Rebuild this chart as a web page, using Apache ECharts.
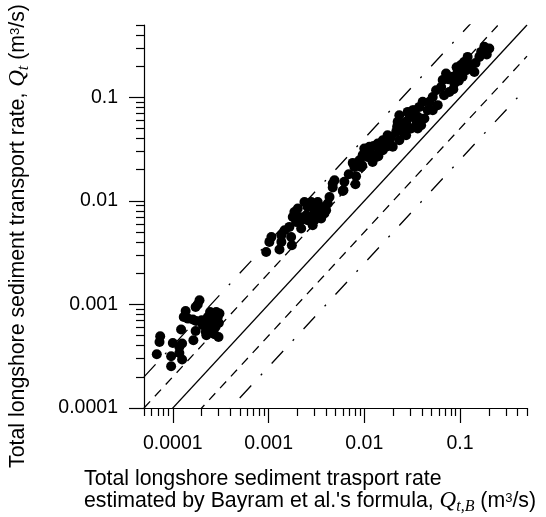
<!DOCTYPE html>
<html>
<head>
<meta charset="utf-8">
<script src="https://cdn.jsdelivr.net/npm/echarts@6/dist/echarts.min.js"></script>
<style>
  html, body { margin: 0; padding: 0; background: #fff; }
  #chart { width: 546px; height: 517px; }
</style>
</head>
<body>
<div id="chart"></div>
<script>
// estimated by Bayram et al.'s formula (x) vs measured (y), m3/s
const qtB = [
  // low-rate group
  1.90e-4, 1.82e-4, 1.73e-4, 1.36e-4, 1.30e-4, 1.44e-4, 1.62e-4, 1.75e-4, 2.45e-4, 2.84e-4,
  3.07e-4, 2.66e-4, 2.95e-4, 2.21e-4, 2.51e-4, 2.84e-4, 3.02e-4, 2.06e-4, 2.32e-4, 2.79e-4,
  1.22e-4, 1.73e-4, 2.21e-4, 2.51e-4, 2.72e-4, 2.24e-4, 3.00e-4, 1.64e-4, 7.38e-5, 7.26e-5,
  1.00e-4, 1.17e-4, 1.25e-4, 6.80e-5, 9.60e-5, 1.17e-4, 1.25e-4, 9.60e-5, 2.00e-4, 2.32e-4,
  // middle group
  4.68e-3, 5.96e-3, 4.33e-3, 2.37e-3, 2.79e-3, 3.26e-3, 3.54e-3, 3.99e-3, 3.01e-3, 2.56e-3,
  2.02e-3, 1.86e-3, 1.79e-3, 2.10e-3, 2.47e-3, 2.89e-3, 3.40e-3, 3.83e-3, 3.54e-3, 3.01e-3,
  2.56e-3, 2.19e-3, 1.94e-3, 2.19e-3, 2.89e-3, 1.65e-3, 1.47e-3, 1.36e-3, 1.72e-3, 1.07e-3,
  1.02e-3, 1.36e-3, 1.75e-3, 1.30e-3, 9.44e-4, 3.14e-3, 4.15e-3,
  // high group
  4.88e-3, 4.68e-3, 6.19e-3, 6.05e-3, 6.88e-3, 8.07e-3, 8.20e-3, 7.88e-3, 7.57e-3, 8.89e-3,
  9.62e-3, 1.00e-2, 1.13e-2, 1.08e-2, 1.22e-2, 1.33e-2, 1.44e-2, 1.38e-2, 1.56e-2, 1.69e-2,
  1.83e-2, 1.75e-2, 1.90e-2, 2.15e-2, 2.42e-2, 2.32e-2, 2.52e-2, 2.73e-2, 3.08e-2, 2.84e-2,
  3.33e-2, 3.47e-2, 3.61e-2, 2.23e-2, 2.32e-2, 9.27e-3, 1.18e-2, 1.56e-2, 1.98e-2, 2.73e-2,
  0.202, 0.166, 0.159, 0.130, 0.141, 0.102, 0.0944, 0.0838, 0.106, 0.0872,
  0.0658, 0.0634, 0.0773, 0.0562, 0.0518, 0.0479, 0.0584, 0.0459, 0.0376, 0.0320,
  0.0296, 0.0361, 0.0424, 0.0273, 0.0252, 0.0308, 0.0347, 0.120, 0.116, 0.0714,
  0.179, 0.0518, 0.0407, 0.0392, 0.145, 0.190, 0.110, 0.092, 0.075, 0.068,
  0.085, 0.097, 0.0125, 0.016, 0.022, 0.026, 0.0095, 0.014
];
const qt = [
  1.10e-3, 1.00e-3, 9.46e-4, 8.65e-4, 7.57e-4, 7.30e-4, 7.15e-4, 6.93e-4, 8.47e-4, 8.47e-4,
  8.17e-4, 7.87e-4, 7.57e-4, 6.78e-4, 6.78e-4, 7.03e-4, 6.63e-4, 6.30e-4, 6.06e-4, 6.06e-4,
  5.72e-4, 5.55e-4, 5.42e-4, 5.63e-4, 5.15e-4, 5.04e-4, 4.85e-4, 4.51e-4, 4.93e-4, 4.34e-4,
  4.25e-4, 3.88e-4, 4.19e-4, 3.30e-4, 3.16e-4, 3.40e-4, 2.94e-4, 2.53e-4, 7.03e-4, 7.57e-4,
  1.47e-2, 1.25e-2, 1.09e-2, 9.77e-3, 9.77e-3, 9.77e-3, 8.75e-3, 8.13e-3, 8.45e-3, 8.75e-3,
  8.45e-3, 7.83e-3, 7.00e-3, 7.00e-3, 7.28e-3, 7.28e-3, 7.55e-3, 7.55e-3, 6.76e-3, 6.51e-3,
  6.51e-3, 6.51e-3, 6.27e-3, 5.41e-3, 5.82e-3, 5.61e-3, 5.21e-3, 4.66e-3, 4.49e-3, 4.49e-3,
  4.02e-3, 4.02e-3, 3.73e-3, 3.39e-3, 3.21e-3, 9.08e-3, 9.44e-3,
  1.58e-2, 1.35e-2, 1.53e-2, 1.27e-2, 1.81e-2, 1.45e-2, 1.73e-2, 2.13e-2, 2.33e-2, 2.47e-2,
  2.77e-2, 3.21e-2, 3.33e-2, 2.66e-2, 2.38e-2, 2.66e-2, 2.97e-2, 3.59e-2, 3.86e-2, 3.33e-2,
  3.72e-2, 4.31e-2, 4.15e-2, 4.64e-2, 5.19e-2, 3.86e-2, 4.82e-2, 5.60e-2, 6.49e-2, 7.24e-2,
  7.52e-2, 6.03e-2, 5.01e-2, 5.80e-2, 6.73e-2, 2.13e-2, 2.87e-2, 3.09e-2, 3.33e-2, 4.31e-2,
  0.296, 0.275, 0.246, 0.205, 0.176, 0.205, 0.176, 0.158, 0.158, 0.136,
  0.147, 0.126, 0.113, 0.117, 0.101, 0.0905, 0.0841, 0.0752, 0.0809, 0.0752,
  0.0673, 0.0649, 0.0625, 0.0580, 0.0482, 0.0500, 0.0539, 0.246, 0.183, 0.170,
  0.308, 0.0752, 0.0905, 0.0539, 0.215, 0.260, 0.220, 0.195, 0.150, 0.105,
  0.120, 0.145, 0.034, 0.036, 0.052, 0.045, 0.022, 0.027
];

const xRange = [0.00005, 0.5];
const yRange = [0.0001, 0.5];
const majorTicks = [0.0001, 0.001, 0.01, 0.1];
const tickLabels = ['0.0001', '0.001', '0.01', '0.1'];
const ratioSolid = [1];
const ratioDashed = [2, 0.5];
const ratioDashDot = [4, 0.25];

// minor ticks at 2..9 x 10^n inside a range
function minorTicks(range) {
  const out = [];
  for (let e = -5; e <= -1; e++) {
    for (let m = 2; m <= 9; m++) {
      const v = parseFloat((m * Math.pow(10, e)).toPrecision(3));
      if (v >= range[0] * 0.999 && v <= range[1] * 1.001) out.push(v);
    }
  }
  return out;
}

const labelFor = (v) => {
  const i = majorTicks.findIndex(t => Math.abs(Math.log10(t) - Math.log10(v)) < 1e-6);
  return i >= 0 ? tickLabels[i] : '';
};

const black = '#000';
const sansFont = '"Liberation Sans", Arial, sans-serif';
const serifFont = '"Liberation Serif", "Times New Roman", serif';

function majorAxis(range, pos) {
  return {
    type: 'log',
    logBase: 10,
    position: pos,
    min: range[0],
    max: range[1],
    axisLine: { show: true, onZero: false, lineStyle: { color: black, width: 1.2 } },
    axisTick: { show: true, inside: false, length: 15, customValues: majorTicks, lineStyle: { color: black, width: 1.2 } },
    axisLabel: {
      customValues: majorTicks,
      formatter: labelFor,
      color: black,
      fontSize: 19.5,
      fontFamily: sansFont,
      margin: 26,
    },
    splitLine: { show: false },
    minorTick: { show: false },
  };
}

function minorAxis(range, pos) {
  return {
    type: 'log',
    logBase: 10,
    position: pos,
    min: range[0],
    max: range[1],
    axisLine: { show: false, onZero: false },
    axisTick: { show: true, inside: false, length: 8, customValues: minorTicks(range), lineStyle: { color: black, width: 1.2 } },
    axisLabel: { show: false },
    splitLine: { show: false },
  };
}

function refLine(k, type) {
  return {
    type: 'line',
    data: xRange.map(x => [x, k * x]),
    symbol: 'none',
    clip: true,
    silent: true,
    lineStyle: { color: black, width: 1.3, type: type },
    z: 1,
  };
}

const points = qtB.map((x, i) => [x, qt[i]]);

const richStyles = {
  a: { fontFamily: sansFont, fontSize: 21.3, lineHeight: 22, fill: black },
  q: { fontFamily: serifFont, fontStyle: 'italic', fontSize: 23, lineHeight: 22, fill: black },
  s: { fontFamily: serifFont, fontStyle: 'italic', fontSize: 16, lineHeight: 16, verticalAlign: 'top', padding: [9, 0, 0, 0], fill: black },
  sup: { fontFamily: sansFont, fontSize: 13, lineHeight: 13, verticalAlign: 'top', padding: [2, 0, 0, 0], fill: black },
};

const chart = echarts.init(document.getElementById('chart'));
chart.setOption({
  animation: false,
  backgroundColor: '#fff',
  grid: { left: 144, top: 25, width: 383, height: 383 },
  xAxis: [majorAxis(xRange, 'bottom'), minorAxis(xRange, 'bottom')],
  yAxis: [majorAxis(yRange, 'left'), minorAxis(yRange, 'left')],
  series: [
    ...ratioSolid.map(k => refLine(k, 'solid')),
    ...ratioDashed.map(k => refLine(k, [9, 7])),
    ...ratioDashDot.map(k => refLine(k, [17, 14, 2, 14])),
    {
      type: 'scatter',
      data: points,
      symbol: 'circle',
      symbolSize: 10,
      itemStyle: { color: black, opacity: 1 },
      z: 3,
    },
  ],
  graphic: [
    {
      type: 'text',
      x: 18,
      y: 236,
      rotation: Math.PI / 2,
      style: {
        text: '{a|Total longshore sediment transport rate, }{q|Q}{s|t}{a| (m}{sup|3}{a|/s)}',
        rich: richStyles,
        align: 'center',
        verticalAlign: 'middle',
      },
    },
    {
      type: 'text',
      x: 84,
      y: 468,
      style: {
        text: '{a|Total longshore sediment trasport rate}\n{a|estimated by Bayram et al.\'s formula, }{q|Q}{s|t,B}{a| (m}{sup|3}{a|/s)}',
        rich: richStyles,
        align: 'left',
        verticalAlign: 'top',
      },
    },
  ],
});
</script>
</body>
</html>
